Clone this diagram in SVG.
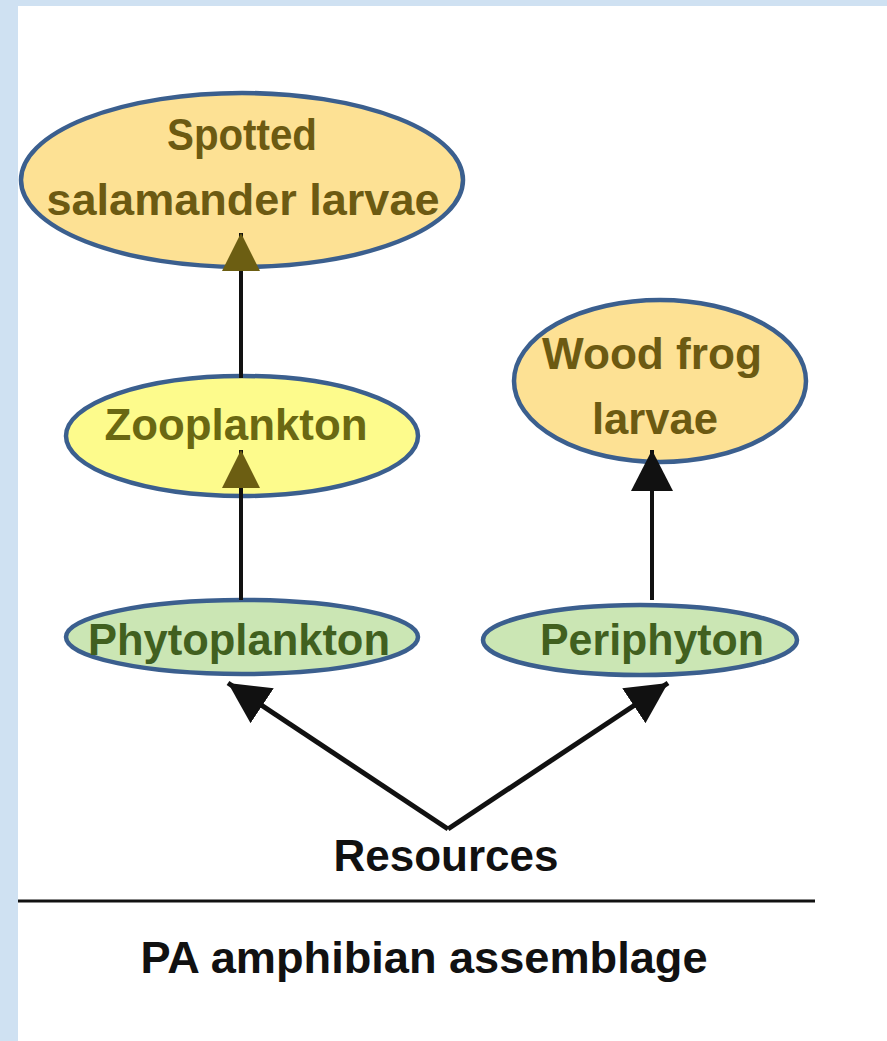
<svg xmlns="http://www.w3.org/2000/svg" width="887" height="1041" viewBox="0 0 887 1041">
<style>
.node{stroke:#3b5f8e;stroke-width:4.5}
.orange{fill:#fde194}
.yellow{fill:#fdfb8c}
.green{fill:#cbe6b4}
text{font-family:"Liberation Sans",Arial,Helvetica,sans-serif;font-weight:bold;text-anchor:middle;font-size:44px}
.brown{fill:#6c5a12}
.olive{fill:#6a6812}
.dgreen{fill:#41601f}
.black{fill:#111}
.conn{stroke:#111;stroke-width:4;fill:none}
.diag{stroke-width:5}
</style>
<defs>
<marker id="headOlive" markerUnits="userSpaceOnUse" markerWidth="40" markerHeight="42" refX="38" refY="21" orient="auto">
<path d="M0,2 L38,21 L0,40 z" fill="#6c5e12"/>
</marker>
<marker id="headBlack" markerUnits="userSpaceOnUse" markerWidth="42" markerHeight="44" refX="41" refY="22" orient="auto">
<path d="M0,1 L41,22 L0,43 z" fill="#111"/>
</marker>
</defs>
<rect x="0" y="0" width="887" height="1041" fill="#ffffff"/>
<rect x="0" y="0" width="887" height="6" fill="#cfe1f2"/>
<rect x="0" y="0" width="18" height="1041" fill="#cfe1f2"/>

<g id="spotted">
<ellipse class="node orange" cx="242" cy="180" rx="221" ry="87"/>
<text class="brown" x="242" y="150" font-size="41" textLength="150" lengthAdjust="spacingAndGlyphs">Spotted</text>
<text class="brown" x="243" y="215" font-size="42" textLength="393" lengthAdjust="spacingAndGlyphs">salamander larvae</text>
</g>
<g id="woodfrog">
<ellipse class="node orange" cx="660" cy="381" rx="146" ry="81"/>
<text class="brown" x="652" y="369" font-size="44" textLength="220" lengthAdjust="spacingAndGlyphs">Wood frog</text>
<text class="brown" x="655" y="434" font-size="44" textLength="126" lengthAdjust="spacingAndGlyphs">larvae</text>
</g>
<g id="zooplankton">
<ellipse class="node yellow" cx="242" cy="436" rx="176" ry="60"/>
<text class="olive" x="236" y="440" font-size="48" textLength="263" lengthAdjust="spacingAndGlyphs">Zooplankton</text>
</g>
<g id="phytoplankton">
<ellipse class="node green" cx="242" cy="637" rx="176" ry="37"/>
<text class="dgreen" x="239" y="655" font-size="48" textLength="302" lengthAdjust="spacingAndGlyphs">Phytoplankton</text>
</g>
<g id="periphyton">
<ellipse class="node green" cx="640" cy="640" rx="157" ry="35"/>
<text class="dgreen" x="652" y="655" font-size="47" textLength="224" lengthAdjust="spacingAndGlyphs">Periphyton</text>
</g>
<g id="resources">
<text class="black" x="446" y="871" font-size="45" textLength="225" lengthAdjust="spacingAndGlyphs">Resources</text>
</g>

<g id="connectors">
<line class="conn" x1="241" y1="378" x2="241" y2="233" marker-end="url(#headOlive)"/>
<line class="conn" x1="241" y1="600" x2="241" y2="450" marker-end="url(#headOlive)"/>
<line class="conn" x1="652" y1="600" x2="652" y2="450" marker-end="url(#headBlack)"/>
<line class="conn diag" x1="448" y1="829" x2="228" y2="683" marker-end="url(#headBlack)"/>
<line class="conn diag" x1="448" y1="829" x2="668" y2="683" marker-end="url(#headBlack)"/>
</g>

<g id="footer">
<line x1="18" y1="901" x2="815" y2="901" stroke="#111" stroke-width="3"/>
<text class="black" x="424" y="973" font-size="44" textLength="567" lengthAdjust="spacingAndGlyphs">PA amphibian assemblage</text>
</g>
</svg>
